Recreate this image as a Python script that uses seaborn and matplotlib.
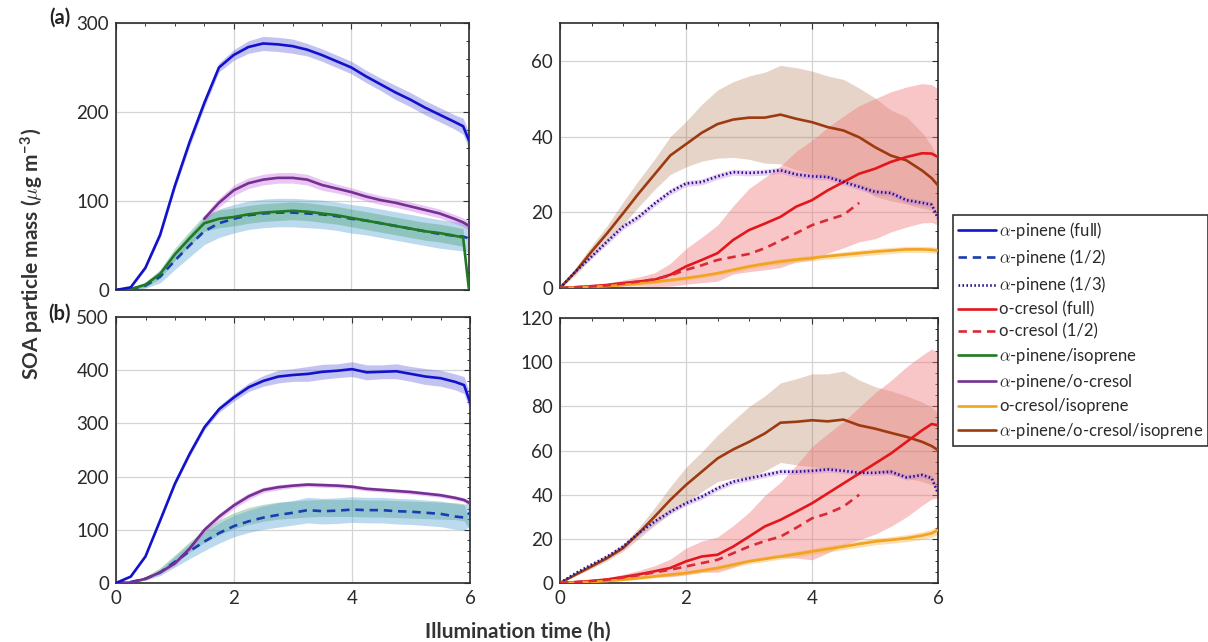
import numpy as np
import pandas as pd
import matplotlib
matplotlib.use("Agg")
import matplotlib.pyplot as plt
from matplotlib.lines import Line2D
from matplotlib.ticker import MultipleLocator
import seaborn as sns

# Illumination time grid (h)
T = [0, 0.25, 0.5, 0.75, 1.0, 1.25, 1.5, 1.75, 2.0, 2.25, 2.5, 2.75, 3.0,
     3.25, 3.5, 3.75, 4.0, 4.25, 4.5, 4.75, 5.0, 5.25, 5.5, 5.75, 5.9, 6.0]
nan = np.nan

# ---- (a) left: alpha-pinene based systems ----
apin_full_a = [0, 3, 25, 62, 117, 166, 210, 250, 264, 273, 277, 276, 274,
               270, 264, 257, 250, 240, 231, 222, 214, 205, 197, 189, 184, 168]
apin_full_a_sd = [0.5, 1, 2, 3, 4, 5, 5, 5, 6, 7, 8, 8, 8,
                  7, 7, 7, 7, 7, 7, 8, 8, 8, 8, 8, 9, 9]
apin_half_a = [0, 1, 5, 15, 33, 50, 66, 75, 80, 84, 86, 87, 87,
               86, 85, 83, 80, 78, 75, 72, 69, 66, 63, 61, 60, 58]
apin_half_a_sd = [0, 1, 3, 7, 10, 13, 15, 16, 16, 16, 16, 16, 16,
                  16, 16, 16, 16, 16, 16, 16, 16, 16, 16, 16, 16, 16]
apin_iso_a = [0, 1, 6, 18, 40, 58, 75, 80, 82, 85, 87, 88, 89,
              88, 86, 84, 81, 78, 75, 72, 69, 66, 64, 61, 59, 0]
apin_iso_a_sd = [0, 1, 3, 5, 7, 8, 9, 10, 10, 10, 10, 10, 10,
                 10, 10, 10, 10, 10, 10, 10, 10, 10, 10, 10, 10, 0]
apin_cres_a = [nan, nan, nan, nan, nan, nan, 80, 98, 112, 120, 124, 126, 126,
               124, 118, 114, 110, 105, 101, 98, 94, 90, 86, 80, 76, 72]
apin_cres_a_sd = [0, 0, 0, 0, 0, 0, 4, 5, 6, 6, 6, 6, 6,
                  6, 6, 5, 5, 5, 5, 5, 5, 5, 5, 5, 5, 5]

# ---- (b) left ----
apin_full_b = [0, 12, 50, 118, 187, 243, 293, 327, 349, 368, 380, 388, 391,
               393, 397, 399, 402, 396, 397, 398, 393, 388, 385, 378, 372, 340]
apin_full_b_sd = [0, 1, 2, 3, 4, 5, 5, 6, 7, 8, 10, 12, 12,
                  14, 14, 13, 14, 14, 13, 14, 14, 15, 15, 15, 16, 16]
apin_half_b = [0, 2, 8, 20, 40, 60, 78, 94, 107, 116, 123, 128, 132,
               137, 135, 136, 138, 137, 137, 135, 134, 132, 130, 125, 123, 132]
apin_half_b_sd = [0, 1, 3, 6, 10, 14, 17, 19, 20, 21, 22, 23, 23,
                  24, 24, 24, 24, 24, 24, 24, 24, 24, 24, 24, 24, 24]
apin_iso_b = [0, 2, 9, 24, 45, 68, 88, 105, 117, 126, 132, 136, 138,
              140, 141, 141, 141, 140, 140, 139, 138, 137, 136, 135, 133, 105]
apin_iso_b_sd = [0, 1, 3, 5, 8, 10, 12, 14, 15, 16, 16, 16, 16,
                 16, 16, 16, 16, 16, 16, 16, 16, 16, 16, 16, 16, 6]
apin_cres_b = [0, 1, 8, 20, 37, 65, 100, 125, 146, 163, 175, 180, 183,
               185, 184, 183, 181, 177, 175, 173, 171, 168, 165, 160, 156, 150]
apin_cres_b_sd = [0, 1, 2, 3, 4, 5, 6, 6, 6, 6, 5, 5, 4,
                  4, 4, 4, 4, 4, 4, 4, 4, 4, 4, 4, 4, 4]

# ---- (a) right: o-cresol based systems ----
tern_a = [0, 4.4, 9.6, 14.5, 19.7, 25, 30, 35, 38, 41, 43.3, 44.5, 45,
          45, 45.8, 44.7, 43.8, 42.5, 41.6, 39.8, 37.2, 35, 33.7, 31, 29, 27.1]
tern_a_sd = [0, 1, 1.5, 2, 3, 3.5, 4, 5, 6, 7.5, 9, 10, 11,
             12, 13, 13.5, 13.5, 13.5, 13.5, 13, 13, 12, 11.5, 10, 8.5, 7]
apin_third_a = [0, 4.4, 8.3, 12.3, 16.2, 18.8, 22.3, 25.4, 27.6, 28, 29.5, 30.6, 30.4,
                30.6, 31.1, 30, 29.5, 29.3, 28, 26.7, 25.4, 25.1, 23.2, 22.5, 22, 18.4]
apin_third_a_sd = [0, 0.4, 0.6, 0.8, 0.8, 0.8, 0.8, 0.8, 0.8, 0.8, 0.8, 0.8, 0.8,
                   0.8, 0.8, 0.8, 0.8, 0.8, 0.8, 0.8, 0.8, 0.8, 0.8, 0.8, 0.8, 0.8]
cres_full_a = [0, 0.2, 0.5, 0.8, 1.3, 1.7, 2.2, 3.5, 5.7, 7.4, 9.2, 12.7, 15.3,
               17, 18.8, 21.5, 23.2, 25.8, 28, 30.2, 31.5, 33.3, 34.6, 35.6, 35.5, 34.6]
cres_full_a_sd = [0, 0.1, 0.3, 0.5, 0.8, 1.2, 1.8, 3, 4.7, 6, 7.4, 9, 11,
                  12.2, 13.4, 14.6, 15.8, 16.6, 17.4, 18, 18.5, 18.5, 18.5, 18.4, 18.2, 18]
cres_half_a = [0, 0.2, 0.4, 0.7, 1.2, 1.7, 2.3, 3.3, 4.8, 6, 7.4, 8.2, 9,
               10.5, 12.5, 14.5, 16.6, 18, 19.3, 22.5, nan, nan, nan, nan, nan, nan]
cres_iso_a = [0, 0.1, 0.3, 0.5, 0.8, 1.2, 1.6, 2.1, 2.6, 3.2, 3.9, 4.8, 5.7,
              6.4, 7, 7.5, 7.9, 8.4, 8.8, 9.2, 9.6, 9.9, 10.2, 10.2, 10.1, 9.9]
cres_iso_a_sd = [0, 0.1, 0.2, 0.2, 0.3, 0.3, 0.4, 0.4, 0.5, 0.5, 0.5, 0.6, 0.6,
                 0.6, 0.7, 0.7, 0.7, 0.7, 0.8, 0.8, 0.8, 0.8, 0.8, 0.8, 0.8, 0.8]

# ---- (b) right ----
tern_b = [0, 3.8, 7.5, 11.3, 15.8, 22.6, 30, 37.6, 44.4, 50.4, 56.4, 60.5, 63.9,
          67.7, 72.6, 73, 73.7, 73.2, 74, 71.4, 69.9, 68, 66.2, 63.9, 62, 60.2]
tern_b_sd = [0, 0.5, 1, 1.2, 1.5, 2.5, 4, 6, 8, 9, 10.5, 13, 16,
             17, 18, 19.5, 21, 21.5, 22, 20.5, 19, 19, 18.5, 18, 17.5, 17]
apin_third_b = [0, 4.5, 8.3, 12, 16.5, 22.6, 27.8, 32.3, 36.1, 39.1, 42.9, 45.9, 47.4,
                48.9, 50.4, 50.4, 50.8, 51.4, 50.8, 49.9, 49.9, 50.4, 47.8, 48.9, 47.5, 40.6]
apin_third_b_sd = [0, 0.5, 0.8, 1, 1.2, 1.2, 1.2, 1.2, 1.2, 1.2, 1.2, 1.2, 1.2,
                   1.2, 1.2, 1.2, 1.2, 1.2, 1.2, 1.2, 1.2, 1.2, 1.2, 1.2, 1.2, 1.2]
cres_full_b = [0, 0.4, 0.9, 1.6, 2.7, 3.9, 5.3, 6.8, 9.8, 12, 12.8, 16.5, 21,
               25.6, 28.6, 32.3, 36.1, 40.6, 45.1, 49.6, 54.1, 58.6, 63.9, 69.2, 72, 71.4]
cres_full_b_sd = [0, 0.2, 0.5, 0.8, 1.2, 1.8, 2.5, 4, 6, 7, 8, 9.5, 11,
                  14, 17, 21, 25.6, 27, 28, 30, 32, 33, 34, 34, 34, 33]
cres_half_b = [0, 0.4, 0.9, 1.5, 2.5, 3.5, 4.8, 6, 7.5, 9, 10.5, 13.5, 16.5,
               19, 21, 25, 29.3, 31.5, 34.6, 40, nan, nan, nan, nan, nan, nan]
cres_iso_b = [0, 0.2, 0.5, 0.9, 1.5, 2.2, 3, 3.8, 4.5, 5.6, 6.8, 8.3, 9.8,
              10.9, 12, 13.1, 14.3, 15.4, 16.5, 17.7, 18.8, 19.5, 20.3, 21.5, 22.5, 24]
cres_iso_b_sd = [0, 0.2, 0.3, 0.4, 0.5, 0.6, 0.7, 0.8, 0.9, 1, 1, 1.1, 1.1,
                 1.2, 1.2, 1.3, 1.3, 1.4, 1.4, 1.5, 1.5, 1.5, 1.6, 1.7, 1.8, 2]

# legend entries (label, line colour, linestyle)
STYLES = {
    "apin_full":  (r"$\alpha$-pinene (full)", "#1212cc", "-"),
    "apin_half":  (r"$\alpha$-pinene (1/2)", "#1a3cb0", (0, (3.2, 2.2))),
    "apin_third": (r"$\alpha$-pinene (1/3)", "#22128a", (0, (0.6, 0.9))),
    "cres_full":  ("o-cresol (full)", "#e3161c", "-"),
    "cres_half":  ("o-cresol (1/2)", "#d92a36", (0, (3.2, 2.2))),
    "apin_iso":   (r"$\alpha$-pinene/isoprene", "#1f7a26", "-"),
    "apin_cres":  (r"$\alpha$-pinene/o-cresol", "#743092", "-"),
    "cres_iso":   ("o-cresol/isoprene", "#f2a31f", "-"),
    "tern":       (r"$\alpha$-pinene/o-cresol/isoprene", "#9e3a10", "-"),
}
BANDS = {
    "apin_full": ("#6a6ae0", 0.40),
    "apin_half": ("#5ea8d6", 0.42),
    "apin_third": ("#c07ce0", 0.35),
    "apin_iso": ("#3f9a66", 0.35),
    "apin_cres": ("#c86ee0", 0.38),
    "cres_full": ("#f07878", 0.42),
    "cres_iso": ("#f5b040", 0.40),
    "tern": ("#a8653e", 0.28),
}

sns.set_theme(style="white")
plt.rcParams["font.family"] = ["Lato", "DejaVu Sans"]
plt.rcParams["mathtext.fontset"] = "cm"

W, H = 1208, 642
fig = plt.figure(figsize=(W / 100, H / 100), dpi=100)


def px_axes(x0, y0, x1, y1):
    return fig.add_axes([x0 / W, 1 - y1 / H, (x1 - x0) / W, (y1 - y0) / H])


ax_al = px_axes(116, 23, 469, 290)
ax_bl = px_axes(116, 317, 470, 583)
ax_ar = px_axes(560, 23, 938, 288)
ax_br = px_axes(560, 318, 938, 583)

t = np.array(T, dtype=float)


def draw(ax, key, y, sd=None, line=True):
    label, color, ls = STYLES[key]
    y = np.array(y, dtype=float)
    if sd is not None:
        sd = np.array(sd, dtype=float)
        bc, ba = BANDS[key]
        ok = ~np.isnan(y)
        ax.fill_between(t[ok], (y - sd)[ok], (y + sd)[ok], color=bc,
                        alpha=ba, lw=0, zorder=1)
    if line:
        df = pd.DataFrame({"t": t, "y": y}).dropna()
        sns.lineplot(data=df, x="t", y="y", ax=ax, color=color, linestyle=ls,
                     lw=1.9, estimator=None, sort=False, zorder=3)


draw(ax_al, "apin_half", apin_half_a, apin_half_a_sd)
draw(ax_al, "apin_iso", apin_iso_a, apin_iso_a_sd)
draw(ax_al, "apin_cres", apin_cres_a, apin_cres_a_sd)
draw(ax_al, "apin_full", apin_full_a, apin_full_a_sd)

draw(ax_bl, "apin_iso", apin_iso_b, apin_iso_b_sd, line=False)
draw(ax_bl, "apin_half", apin_half_b, apin_half_b_sd)
draw(ax_bl, "apin_cres", apin_cres_b, apin_cres_b_sd)
draw(ax_bl, "apin_full", apin_full_b, apin_full_b_sd)

for ax, tern, tern_sd, third, third_sd, cf, cf_sd, ch, ci, ci_sd in [
    (ax_ar, tern_a, tern_a_sd, apin_third_a, apin_third_a_sd, cres_full_a,
     cres_full_a_sd, cres_half_a, cres_iso_a, cres_iso_a_sd),
    (ax_br, tern_b, tern_b_sd, apin_third_b, apin_third_b_sd, cres_full_b,
     cres_full_b_sd, cres_half_b, cres_iso_b, cres_iso_b_sd),
]:
    draw(ax, "tern", tern, tern_sd)
    draw(ax, "cres_full", cf, cf_sd)
    draw(ax, "apin_third", third, third_sd)
    draw(ax, "cres_iso", ci, ci_sd)
    draw(ax, "cres_half", ch)

limits = {ax_al: (300, 100, 20), ax_bl: (500, 100, 20),
          ax_ar: (70, 20, 5), ax_br: (120, 20, 5)}
for ax, (ymax, major, minor) in limits.items():
    ax.set_xlim(0, 6)
    ax.set_ylim(0, ymax)
    ax.xaxis.set_major_locator(MultipleLocator(2))
    ax.xaxis.set_minor_locator(MultipleLocator(0.5))
    ax.yaxis.set_major_locator(MultipleLocator(major))
    ax.yaxis.set_minor_locator(MultipleLocator(minor))
    ax.grid(True, which="major", color="#d4d4d4", lw=0.9, zorder=0)
    ax.set_axisbelow(True)
    ax.tick_params(which="both", direction="in", top=True, right=True,
                   colors="#333333", labelcolor="#2a2a2a", labelsize=13.5)
    ax.tick_params(which="major", length=4.5, width=0.8, pad=5)
    ax.tick_params(which="minor", length=2.5, width=0.7)
    for s in ax.spines.values():
        s.set_color("#2b2b2b")
        s.set_linewidth(1.2)
        s.set_visible(True)
    ax.set_xlabel("")
    ax.set_ylabel("")
    ax.set_facecolor("white")

for ax in (ax_al, ax_ar):
    ax.tick_params(labelbottom=False)

fig.text(60 / W, 1 - 18 / H, "(a)", fontsize=14.5, fontweight="bold",
         ha="center", va="center", color="#222222")
fig.text(60 / W, 1 - 314 / H, "(b)", fontsize=14.5, fontweight="bold",
         ha="center", va="center", color="#222222")
fig.text(32 / W, 1 - 254 / H,
         r"SOA particle mass ($\mu$g m$^{\mathregular{-3}}$)",
         rotation=90, fontsize=15, fontweight="bold", ha="center",
         va="center", color="#333333")
fig.text(518 / W, 1 - 632 / H, "Illumination time (h)", fontsize=15,
         fontweight="bold", ha="center", va="center", color="#333333")

handles = [Line2D([], [], color=STYLES[k][1], linestyle=STYLES[k][2], lw=1.9)
           for k in STYLES]
labels = [STYLES[k][0] for k in STYLES]
leg = fig.legend(handles, labels, loc="upper left",
                 bbox_to_anchor=(953 / W, 1 - 215 / H), fontsize=12,
                 frameon=True, fancybox=False, edgecolor="#333333",
                 handlelength=2.3, handletextpad=0.15, labelspacing=0.37,
                 borderpad=0.3, borderaxespad=0, framealpha=1)
leg.get_frame().set_linewidth(1.2)
for txt in leg.get_texts():
    txt.set_color("#2a2a2a")

fig.savefig("out.png", dpi=100, facecolor="white")
